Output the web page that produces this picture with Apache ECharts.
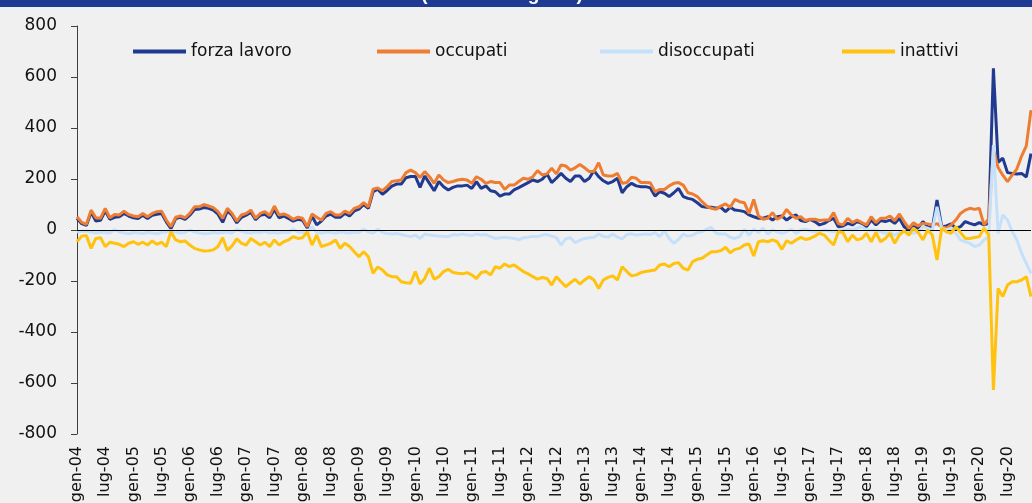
<!DOCTYPE html>
<html><head><meta charset="utf-8">
<script src="https://cdn.jsdelivr.net/npm/echarts@6/dist/echarts.min.js"></script>
<style>html,body{margin:0;padding:0;background:#f0f0f0;overflow:hidden}#c{width:1032px;height:503px}</style>
</head><body><div id="c"></div>
<script>
const monthNames = ['gen','feb','mar','apr','mag','giu','lug','ago','set','ott','nov','dic'];
const yearLabels = ['04','05','06','07','08','09','10','11','12','13','14','15','16','17','18','19','20'];
const seriesNames = ['forza lavoro','occupati','disoccupati','inattivi'];
const yTicks = [-800,-600,-400,-200,0,200,400,600,800];
const titleText = '(valori in migliaia)';

const forzaLavoro = [45,25,18,70,35,38,75,42,50,52,65,55,48,45,58,45,58,62,65,32,5,45,50,42,58,80,82,88,85,78,62,30,75,58,28,50,58,70,40,58,62,48,
80,48,55,45,35,42,38,8,55,20,35,55,62,50,50,65,55,75,82,100,85,150,160,140,155,172,180,180,205,210,210,167,212,183,154,190,170,157,167,
173,173,176,163,190,163,173,154,150,133,141,141,157,166,176,186,196,190,199,220,186,203,222,203,190,212,212,190,203,233,209,193,183,190,203,146,170,183,173,170,170,165,
133,150,144,131,146,163,131,124,120,107,92,89,89,85,89,72,89,78,76,72,59,52,46,46,52,39,52,55,39,52,59,37,33,42,33,20,26,37,
46,13,16,26,20,33,26,13,39,20,37,33,39,26,46,13,0,13,7,33,13,7,118,13,16,24,7,13,33,26,20,29,20,26,634,265,282,225,222,220,222,208,300];

const occupati = [52,30,22,78,48,46,85,48,61,59,74,61,55,52,65,52,65,72,74,39,13,50,55,48,65,91,91,100,94,88,72,46,85,65,35,59,65,78,46,65,72,56,
94,59,63,55,42,50,46,13,63,50,39,65,72,59,59,74,65,85,91,107,91,160,165,154,170,190,193,196,225,235,225,206,229,209,183,216,196,186,190,
196,199,196,183,209,199,183,190,186,186,159,176,176,190,203,199,209,233,216,220,242,220,255,251,235,244,257,244,229,229,264,216,212,212,222,183,186,207,203,186,186,185,
150,159,159,173,183,186,176,146,141,131,111,94,85,81,94,102,89,120,111,107,65,120,55,42,46,68,42,52,81,59,46,52,37,42,42,37,39,39,
68,25,20,46,29,39,29,20,52,29,46,46,55,37,63,33,7,29,16,26,24,20,25,13,7,20,39,65,78,85,81,85,20,45,314,245,215,190,215,240,290,330,470];

const disoccupati = [-8,-5,-4,-8,-12,-10,-10,-12,2,-8,-12,-15,-10,-12,-14,-10,-12,-15,-10,-8,-3,-8,-12,-10,0,-8,-12,-15,-14,-10,-12,-10,-8,-12,2,-5,-10,-12,-8,-10,-5,-12,
-10,-12,-8,-10,3,-8,-10,-12,13,-10,-12,-8,-10,-12,-8,-10,-12,-8,-10,3,-8,-12,3,-10,-14,-16,-14,-18,-22,-26,-20,-33,-16,-20,-22,-24,-25,-26,-18,
-20,-16,-20,-22,-16,-20,-18,-26,-33,-30,-28,-30,-33,-39,-30,-28,-25,-26,-20,-18,-24,-30,-59,-35,-30,-50,-40,-33,-30,-28,-16,-25,-28,-16,-28,-35,-18,-15,-20,-18,-16,-18,
-10,-26,-3,-33,-52,-37,-16,-24,-20,-10,-7,3,10,-13,-16,-16,-29,-33,-26,3,-20,3,-10,7,-16,0,-7,-13,-7,3,-13,0,3,-3,-7,-7,0,-3,
-7,0,0,3,0,7,13,0,0,0,-7,-13,-10,-20,-10,-7,-7,-13,-7,13,7,0,91,7,0,7,-13,-39,-46,-52,-65,-59,-39,-25,333,-13,59,39,-7,-39,-91,-131,-170];

const inattivi = [-46,-24,-22,-72,-33,-30,-65,-48,-52,-56,-65,-52,-46,-56,-48,-59,-43,-56,-48,-65,-7,-39,-46,-43,-59,-72,-78,-82,-81,-78,-65,-30,-80,-62,-35,-52,-59,-33,-46,-59,-48,-65,
-39,-59,-46,-39,-26,-33,-30,-8,-59,-20,-65,-59,-52,-39,-72,-52,-65,-85,-105,-85,-105,-170,-145,-157,-176,-183,-183,-203,-207,-209,-163,-212,-190,-150,-193,-183,-163,-154,-167,
-170,-172,-167,-176,-190,-167,-163,-176,-144,-150,-133,-144,-137,-150,-163,-172,-183,-193,-186,-190,-216,-183,-203,-222,-207,-193,-212,-196,-183,-196,-229,-196,-186,-180,-196,-144,-163,-180,-176,-167,-163,-160,
-157,-137,-133,-144,-131,-128,-150,-157,-124,-115,-111,-98,-85,-85,-81,-68,-89,-76,-72,-59,-55,-102,-46,-42,-46,-39,-46,-76,-42,-52,-39,-29,-37,-33,-24,-13,-20,-40,
-59,-7,-10,-46,-20,-39,-33,-13,-46,-10,-46,-33,-13,-52,-20,-3,-20,7,-10,-39,0,-20,-118,7,-7,-13,13,-10,-33,-33,-29,-26,7,-20,-627,-229,-261,-216,-203,-203,-196,-183,-261];

const categories = [];
yearLabels.forEach(y => monthNames.forEach(m => categories.push(m + '-' + y)));
categories.length = forzaLavoro.length;

const colors = ['#203a90','#ee7d32','#c5e0fa','#ffc20e'];
const font = 'DejaVu Sans';
const dataSets = [forzaLavoro, occupati, disoccupati, inattivi];
const legendLeft = [128, 372, 595, 837];

const chart = echarts.init(document.getElementById('c'), null, {renderer:'canvas'});
chart.setOption({
  animation: false,
  backgroundColor: '#f0f0f0',
  grid: {left: 77, right: 1, top: 26, bottom: 69, containLabel: false, outerBoundsMode: 'none'},
  graphic: [
    {type:'rect', left:0, top:0, shape:{x:0,y:0,width:1032,height:7}, style:{fill:'#1f3a93'}, z:10},
    {type:'text', x:502, y:4, z:11, style:{text:titleText, fill:'#ffffff', font:'bold 19px "Liberation Sans"', textAlign:'center', textVerticalAlign:'bottom'}}
  ],
  legend: seriesNames.map((n,i) => ({
    data:[n], left: legendLeft[i], top: 38, icon:'rect', itemWidth:53, itemHeight:4, itemGap:5,
    textStyle:{fontFamily:font, fontSize:17, color:'#111111'}, selectedMode:false
  })),
  xAxis: {
    type:'category', data: categories, boundaryGap:false,
    axisLine:{show:false}, axisTick:{show:false}, splitLine:{show:false},
    axisLabel:{interval:5, rotate:90, margin:12, fontFamily:font, fontSize:16, color:'#111111'}
  },
  yAxis: {
    type:'value', min:yTicks[0], max:yTicks[yTicks.length-1], interval:200,
    axisLine:{show:true, lineStyle:{color:'#404040', width:1}},
    axisTick:{show:true, length:6, lineStyle:{color:'#404040'}},
    splitLine:{show:false},
    axisLabel:{margin:20, fontFamily:font, fontSize:17, color:'#111111'}
  },
  series: seriesNames.map((n,i) => {
    const s = {
      name:n, type:'line', data:dataSets[i], symbol:'none', showSymbol:false,
      lineStyle:{color:colors[i], width:3}, itemStyle:{color:colors[i]}, color:colors[i],
      emphasis:{disabled:true}, z: 2 + i
    };
    if (i === 0) {
      s.markLine = {silent:true, symbol:'none', label:{show:false}, emphasis:{disabled:true},
        lineStyle:{color:'#000000', width:1.2, type:'solid'}, data:[{yAxis:0}]};
    }
    return s;
  })
});
</script>
</body></html>
